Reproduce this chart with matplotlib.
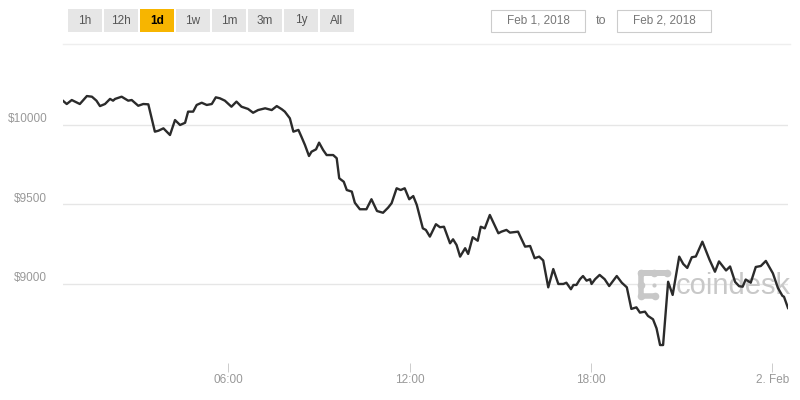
import matplotlib.pyplot as plt
from matplotlib.patches import Rectangle
from matplotlib.lines import Line2D

plt.rcParams['font.family'] = ['Liberation Sans', 'DejaVu Sans']

# minutes after Feb 1, 2018 00:00 and BTC price (USD)
minutes = [32, 39, 49, 65, 79, 89, 98, 105, 115, 125,
           131, 135, 148, 161, 168, 181, 191, 201, 214, 221,
           231, 244, 254, 264, 274, 280, 290, 297, 307, 317,
           327, 335, 343, 353, 366, 376, 386, 399, 409, 419,
           433, 446, 456, 466, 472, 482, 489, 499, 505, 512,
           520, 525, 534, 540, 548, 555, 568, 575, 580, 589,
           595, 605, 611, 621, 634, 644, 655, 667, 677, 684,
           694, 702, 710, 719, 727, 734, 746, 752, 760, 772,
           780, 788, 800, 806, 813, 820, 830, 836, 845, 855,
           861, 869, 879, 896, 902, 912, 919, 935, 949, 959,
           968, 977, 985, 995, 1005, 1015, 1025, 1031, 1040, 1045,
           1051, 1058, 1064, 1071, 1078, 1081, 1088, 1097, 1107, 1116,
           1131, 1141, 1151, 1160, 1170, 1177, 1187, 1193, 1203, 1210,
           1217, 1223, 1233, 1242, 1255, 1263, 1271, 1280, 1288, 1301,
           1315, 1326, 1334, 1348, 1356, 1366, 1374, 1381, 1387, 1397,
           1407, 1417, 1427, 1441, 1451, 1460, 1463, 1471]
prices = [10151, 10132, 10157, 10132, 10182, 10178, 10153, 10119, 10132, 10164,
          10153, 10164, 10178, 10153, 10157, 10121, 10132, 10130, 9958, 9964,
          9979, 9937, 10031, 10000, 10014, 10084, 10084, 10126, 10140, 10126,
          10132, 10174, 10168, 10153, 10115, 10147, 10115, 10101, 10077, 10094,
          10105, 10094, 10119, 10099, 10084, 10042, 9958, 9969, 9926, 9874,
          9805, 9832, 9847, 9889, 9843, 9811, 9811, 9791, 9665, 9643,
          9591, 9581, 9511, 9470, 9470, 9533, 9459, 9448, 9480, 9508,
          9602, 9591, 9602, 9533, 9553, 9497, 9350, 9340, 9298, 9376,
          9357, 9360, 9256, 9281, 9245, 9172, 9225, 9189, 9294, 9272,
          9360, 9350, 9434, 9319, 9329, 9340, 9323, 9329, 9235, 9239,
          9162, 9172, 9148, 8979, 9094, 9000, 9000, 9008, 8967, 8994,
          8994, 9030, 9050, 9021, 9030, 9000, 9030, 9057, 9030, 8987,
          9050, 9008, 8979, 8843, 8853, 8820, 8826, 8799, 8778, 8721,
          8616, 8616, 9014, 8931, 9172, 9126, 9101, 9168, 9173, 9266,
          9154, 9077, 9142, 9085, 9110, 9013, 8986, 8983, 9028, 9008,
          9107, 9113, 9145, 9067, 8975, 8925, 8920, 8849]

x_ticks = [6, 12, 18, 24]
x_labels = ['06:00', '12:00', '18:00', '2. Feb']
y_ticks = [9000, 9500, 10000]
y_labels = ['$9000', '$9500', '$10000']
ranges = ['1h', '12h', '1d', '1w', '1m', '3m', '1y', 'All']
selected = '1d'
date_from, date_to = 'Feb 1, 2018', 'Feb 2, 2018'

W, H = 800, 400
fig = plt.figure(figsize=(W / 100, H / 100), dpi=100)


def fx(x):
    return x / W


def fy(y):
    return 1 - y / H


# plot area in pixels
left, right, top, bottom = 63.2, 788.0, 80, 363
ax = fig.add_axes([fx(left), fy(bottom), fx(right - left), (bottom - top) / H])

hours = [m / 60 for m in minutes]
ax.plot(hours, prices, color='#2b2b2b', lw=1.7, zorder=3, solid_joinstyle='round')
ax.set_xlim(hours[0], hours[-1])
ax.set_ylim(8503, 10283)

for s in ax.spines.values():
    s.set_visible(False)

ax.set_yticks(y_ticks)
ax.set_yticklabels([])
ax.tick_params(axis='y', length=0)
ax.grid(axis='y', color='#e6e6e6', lw=1)
ax.set_axisbelow(True)
for v, lab in zip(y_ticks, y_labels):
    ax.annotate(lab, xy=(0, v), xycoords=('axes fraction', 'data'),
                xytext=(-11.5, 4.3), textcoords='offset points',
                ha='right', va='center', fontsize=8.5, color='#999999')

ax.set_xticks(x_ticks)
ax.set_xticklabels(x_labels, fontsize=8.5, color='#999999')
ax.tick_params(axis='x', length=6.5, width=0.7, color='#cccccc', pad=1.5)

# watermark
ax.text(fx(676), fy(293.5), 'coindesk', transform=fig.transFigure, fontsize=21,
        color='#c8c8c8', ha='left', va='baseline', zorder=1)
wm = [(641, 273), (667, 273), (641, 273), (641, 296), (655, 296)]
ax.add_line(Line2D([fx(p[0]) for p in wm], [fy(p[1]) for p in wm], transform=fig.transFigure,
                   color='#c8c8c8', lw=4, solid_capstyle='round', solid_joinstyle='round', zorder=1))
for p in [(641, 273), (654, 273), (667, 273), (641, 285), (641, 296), (655, 296), (654, 285)]:
    ax.add_line(Line2D([fx(p[0])], [fy(p[1])], transform=fig.transFigure, marker='o',
                       ms=5.5 if p != (654, 285) else 3, color='#c8c8c8', mec='none', zorder=1))

# range buttons
for i, r in enumerate(ranges):
    x0 = 68 + i * 36
    on = r == selected
    fig.add_artist(Rectangle((fx(x0), fy(32)), fx(34), 23 / H, transform=fig.transFigure,
                             facecolor='#f7b500' if on else '#e6e6e6', edgecolor='none'))
    fig.text(fx(x0 + 17), fy(20.5), r, ha='center', va='center', fontsize=8.5,
             color='#000000' if on else '#555555', fontweight='bold' if on else 'normal')

# date inputs
for x0, x1, t in [(491, 585, date_from), (617, 711, date_to)]:
    fig.add_artist(Rectangle((fx(x0), fy(31.5)), fx(x1 - x0), 21.5 / H, transform=fig.transFigure,
                             facecolor='white', edgecolor='#cccccc', lw=0.8))
    fig.text(fx((x0 + x1) / 2), fy(20.5), t, ha='center', va='center', fontsize=8.5, color='#777777')
fig.text(fx(601), fy(20.5), 'to', ha='center', va='center', fontsize=9, color='#777777')

fig.add_artist(Line2D([fx(63), fx(790)], [fy(43.5), fy(43.5)], transform=fig.transFigure,
                      color='#eeeeee', lw=1))

fig.savefig('out.png', dpi=100)
